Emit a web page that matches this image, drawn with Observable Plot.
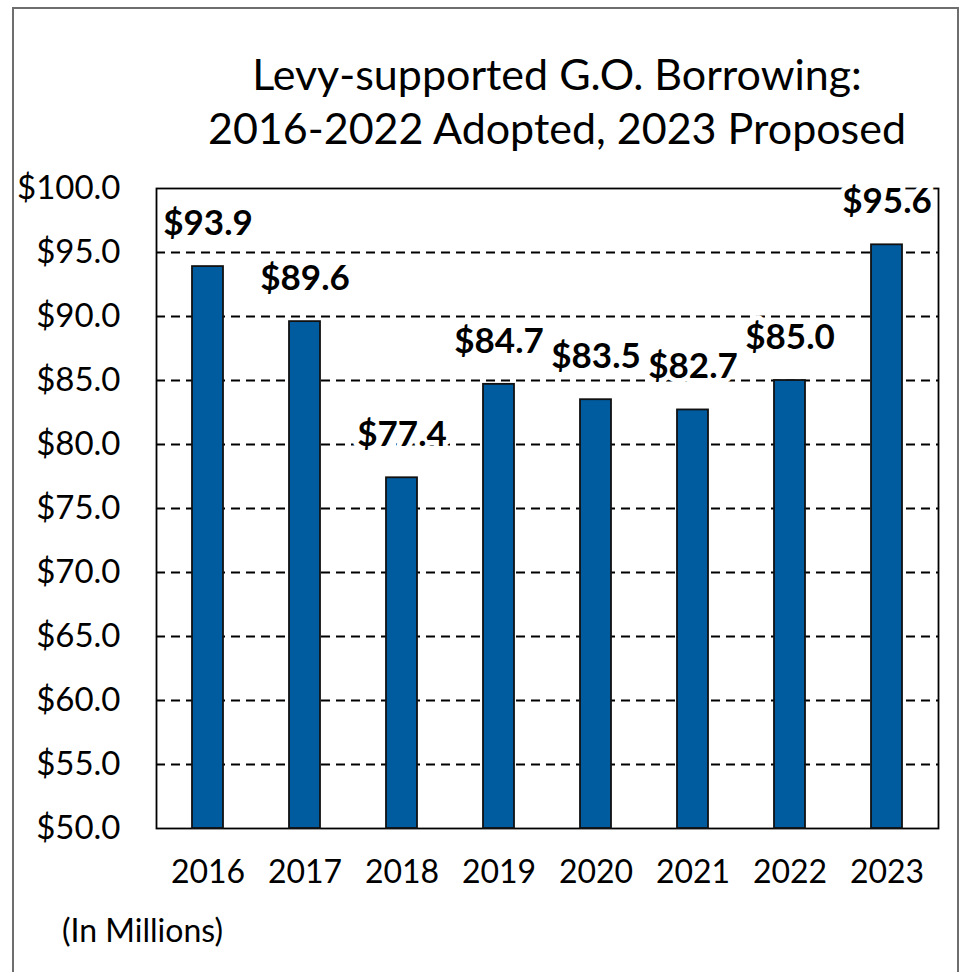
<!DOCTYPE html>
<html>
<head>
<meta charset="utf-8">
<script src="https://cdn.jsdelivr.net/npm/d3@7"></script>
<script src="https://cdn.jsdelivr.net/npm/@observablehq/plot@0.6"></script>
<style>
  html, body { margin: 0; padding: 0; background: #fff; }
  #wrap { position: relative; width: 961px; height: 972px; overflow: hidden; font-family: Lato, "Open Sans", sans-serif; color: #000; }
  #border { position: absolute; left: 12px; top: 7px; width: 943px; height: 1100px; border: 2px solid #6e6e6e; border-bottom: none; z-index: 2; pointer-events: none; }
  #title { height: 160px; box-sizing: border-box; padding-top: 47px; padding-left: 153px; text-align: center; font-size: 43px; line-height: 54px; }
  #chart svg { display: block; }
  #caption { height: 72px; box-sizing: border-box; padding-left: 62px; padding-top: 11px; font-size: 32px; line-height: 38px; }
</style>
</head>
<body>
<div id="wrap">
  <div id="border"></div>
  <div id="title">Levy-supported G.O. Borrowing:<br>2016-2022 Adopted, 2023 Proposed</div>
  <div id="chart"></div>
  <div id="caption">(In Millions)</div>
</div>
<script>
const years = ["2016", "2017", "2018", "2019", "2020", "2021", "2022", "2023"];
const values = [93.9, 89.6, 77.4, 84.7, 83.5, 82.7, 85.0, 95.6];
const yTicks = [50, 55, 60, 65, 70, 75, 80, 85, 90, 95, 100];
const gridTicks = [55, 60, 65, 70, 75, 80, 85, 90, 95];

const data = years.map((y, i) => ({year: y, value: values[i]}));
const fmt = v => "$" + v.toFixed(1);

const chart = Plot.plot({
  width: 961,
  height: 740,
  marginTop: 28,
  marginBottom: 72,
  marginLeft: 156,
  marginRight: 23,
  style: {fontFamily: "Lato, 'Open Sans', sans-serif", background: "transparent", color: "#000", overflow: "visible"},
  x: {domain: years, paddingInner: 0.68, paddingOuter: 0.34, label: null},
  y: {domain: [50, 100], label: null},
  marks: [
    Plot.ruleY(gridTicks, {stroke: "#000", strokeWidth: 1.8, strokeDasharray: "9,6"}),
    Plot.frame({stroke: "#000", strokeWidth: 1.8}),
    Plot.barY(data, {x: "year", y1: 50, y2: "value", fill: "#005B9F", stroke: "#111", strokeWidth: 1.8}),
    Plot.axisY({ticks: yTicks, tickFormat: fmt, tickSize: 0, tickPadding: 36, fontSize: 33, label: null}),
    Plot.axisX({tickSize: 0, tickPadding: 32, fontSize: 32, label: null}),
    Plot.text(data, {x: "year", y: "value", text: d => fmt(d.value), dy: -43, fontSize: 35, fontWeight: "bold", fill: "#000", stroke: "#fff", strokeWidth: 10})
  ]
});
document.getElementById("chart").appendChild(chart);
</script>
</body>
</html>
